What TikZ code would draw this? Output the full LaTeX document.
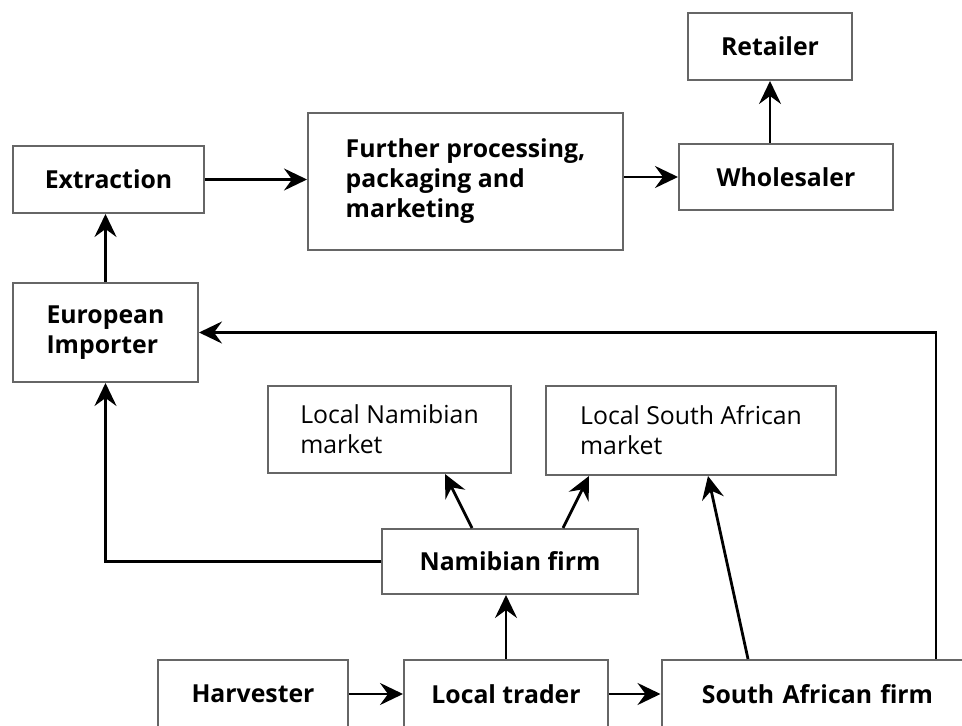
\documentclass[tikz,border=0pt]{standalone}
\usepackage{fontspec}
\setmainfont{Open Sans}
\usepackage{tikz}
\usetikzlibrary{positioning, arrows.meta}
\tikzset{Box/.style={draw=black!60, line width=1pt, align=left, inner sep=0pt}}
\tikzset{E/.style={draw, line width=1.4pt, -{Stealth[length=11.5pt, width=11pt, inset=4pt]}}}
\tikzset{W/.style={font=\fontsize{12.4}{15}\selectfont\bfseries}}
\tikzset{R/.style={font=\fontsize{12.4}{15}\selectfont}}

\begin{document}
\begin{tikzpicture}[x=0.5pt, y=-0.5pt]
    \clip (0,0) rectangle (962,726);

    %% Top row
    \node[Box, W, minimum width=82pt, minimum height=33.5pt] (retailer) at (770,46.5) {Retailer};
    \node[Box, W, minimum width=107pt, minimum height=33pt] (wholesaler) at (786,177) {Wholesaler};
    \node[Box, W, minimum width=157.5pt, minimum height=68.5pt] (further) at (465.5,181.5)
        {Further processing,\\ packaging and\\ marketing};
    \node[Box, W, minimum width=95.5pt, minimum height=33.5pt] (extraction) at (108.5,179.5) {Extraction};
    \node[Box, W, minimum width=92.5pt, minimum height=49.5pt] (importer) at (105.5,332.5) {European\\ Importer};

    %% Markets and firms
    \node[Box, R, minimum width=121.5pt, minimum height=43.5pt] (namMarket) at (389.5,429.5) {Local Namibian\\ market};
    \node[Box, R, minimum width=145pt, minimum height=44.5pt] (saMarket) at (691,430.5) {Local South African\\ market};
    \node[Box, W, minimum width=128pt, minimum height=32.5pt] (namFirm) at (510,561.5) {Namibian firm};

    %% Bottom row (cut off by the page edge)
    \node[Box, W, minimum width=95pt, minimum height=34pt] (harvester) at (253,694) {Harvester};
    \node[Box, W, minimum width=102pt, minimum height=34pt] (trader) at (506,694) {Local trader};
    \node[Box, W, minimum width=156pt, minimum height=34pt, text width=150.5pt, align=center]
        (saFirm) at (817.5,694) {South African firm};

    \coordinate (bend) at (936,330);

    %% Flows
    \draw[E] (harvester) -- (trader);
    \draw[E] (trader) -- (saFirm);
    \draw[E] (trader.north) -- (trader.north |- namFirm.south);
    \draw[E] ([xshift=-19pt]namFirm.north) -- ([xshift=27.75pt]namMarket.south);
    \draw[E] ([xshift=26.5pt]namFirm.north) -- ([xshift=-51pt]saMarket.south);
    \draw[E] ([xshift=-34.75pt]saFirm.north) -- ([xshift=8.5pt]saMarket.south);
    \draw[E] (namFirm.west) -| (importer.south);
    \draw[E] (saFirm.north -| bend) |- (importer.east);
    \draw[E] (importer.north) -- (importer.north |- extraction.south);
    \draw[E] (extraction.east) -- (extraction.east -| further.west);
    \draw[E] (further.east |- wholesaler.west) -- (wholesaler.west);
    \draw[E] (retailer.south |- wholesaler.north) -- (retailer.south);

\end{tikzpicture}
\end{document}
